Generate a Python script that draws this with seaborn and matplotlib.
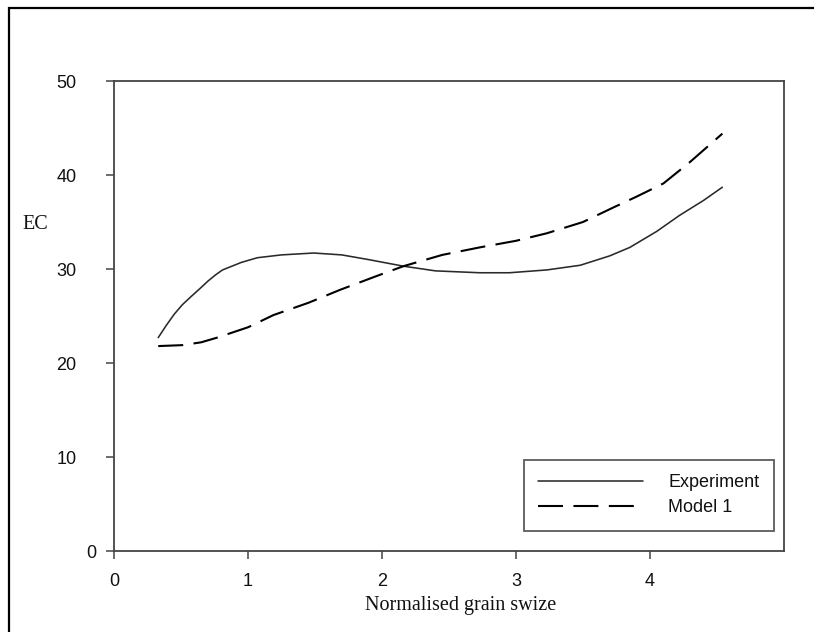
import numpy as np
import pandas as pd
import matplotlib
matplotlib.use("Agg")
import matplotlib.pyplot as plt
import matplotlib.transforms as mtransforms
from matplotlib.patches import Rectangle
import seaborn as sns

# ---- data ----
exp_x = [0.33, 0.39, 0.45, 0.51, 0.57, 0.64, 0.70, 0.76, 0.81, 0.88, 0.95, 1.07,
         1.25, 1.49, 1.70, 1.90, 2.16, 2.40, 2.73, 2.95, 3.23, 3.48, 3.70, 3.85,
         4.05, 4.22, 4.40, 4.54]
exp_y = [22.7, 24.0, 25.2, 26.2, 27.0, 27.9, 28.7, 29.4, 29.9, 30.3, 30.7, 31.2,
         31.5, 31.7, 31.5, 31.0, 30.3, 29.8, 29.6, 29.6, 29.9, 30.4, 31.4, 32.3,
         34.0, 35.7, 37.3, 38.7]
mod_x = [0.33, 0.51, 0.65, 0.77, 1.00, 1.19, 1.45, 1.69, 1.95, 2.16, 2.45, 2.73,
         3.00, 3.23, 3.50, 3.72, 3.90, 4.10, 4.30, 4.54]
mod_y = [21.8, 21.9, 22.2, 22.7, 23.8, 25.1, 26.4, 27.8, 29.2, 30.3, 31.5, 32.3,
         33.0, 33.8, 35.0, 36.5, 37.7, 39.1, 41.4, 44.4]
x_ticks = [0, 1, 2, 3, 4]
y_ticks = [0, 10, 20, 30, 40, 50]
series_names = ["Experiment", "Model 1"]

df_exp = pd.DataFrame({"x": exp_x, "y": exp_y, "series": series_names[0]})
df_mod = pd.DataFrame({"x": mod_x, "y": mod_y, "series": series_names[1]})

sns.set_theme(style="white")
plt.rcParams["font.family"] = ["Liberation Sans", "DejaVu Sans"]

W, H = 814, 632
fig = plt.figure(figsize=(W / 100, H / 100), dpi=100)
ax = fig.add_axes([114 / W, 1 - 551 / H, 670 / W, 470 / H])

sns.lineplot(data=df_exp, x="x", y="y", ax=ax, color="#2a2a2a", lw=1.15,
             estimator=None, sort=False, label=series_names[0])
sns.lineplot(data=df_mod, x="x", y="y", ax=ax, color="black", lw=1.5,
             estimator=None, sort=False, label=series_names[1],
             linestyle=(0, (12, 5)))

ax.set_xlim(0, 5)
ax.set_ylim(0, 50)
ax.set_xticks(x_ticks)
ax.set_yticks(y_ticks)
ax.set_xticklabels([str(v) for v in x_ticks])
ax.set_yticklabels([str(v) for v in y_ticks])

for s in ax.spines.values():
    s.set_visible(True)
    s.set_color("#444444")
    s.set_linewidth(1.3)

ax.tick_params(axis="both", direction="out", length=6, width=1.1,
               color="#444444", labelsize=13, labelcolor="#111111")
ax.tick_params(axis="x", pad=10, bottom=True)
ax.tick_params(axis="y", pad=21, left=True)

# the "0" y label sits closer to the axis in the reference
offset = mtransforms.ScaledTranslation(20 / 100, 0, fig.dpi_scale_trans)
lbl0 = ax.get_yticklabels()[0]
lbl0.set_transform(lbl0.get_transform() + offset)

serif = ["Liberation Serif", "DejaVu Serif"]
ax.set_xlabel("Normalised grain swize", fontsize=14.5, family=serif, color="#111111")
ax.xaxis.set_label_coords(0.518, -0.117)
ax.xaxis.label.set_va("center")
ax.set_ylabel("EC", fontsize=14.5, family=serif, rotation=0, color="#111111")
ax.yaxis.set_label_coords(-0.118, 0.695)
ax.yaxis.label.set_va("center")
ax.yaxis.label.set_ha("center")

leg = ax.legend(loc="lower right", bbox_to_anchor=(0.985, 0.043), borderaxespad=0,
                frameon=True, fancybox=False, fontsize=13, handlelength=5.8,
                handletextpad=1.4, labelspacing=0.45, borderpad=0.8)
frame = leg.get_frame()
frame.set_edgecolor("#333333")
frame.set_linewidth(1.3)
frame.set_facecolor("white")
for t in leg.get_texts():
    t.set_color("#111111")

# outer figure frame (cut off at right and bottom in the reference)
fig.patches.append(Rectangle((9 / W, -0.05), 1.2, 1 - 8 / H + 0.05,
                             transform=fig.transFigure, fill=False,
                             edgecolor="black", linewidth=1.6))

fig.savefig("out.png", dpi=100)
